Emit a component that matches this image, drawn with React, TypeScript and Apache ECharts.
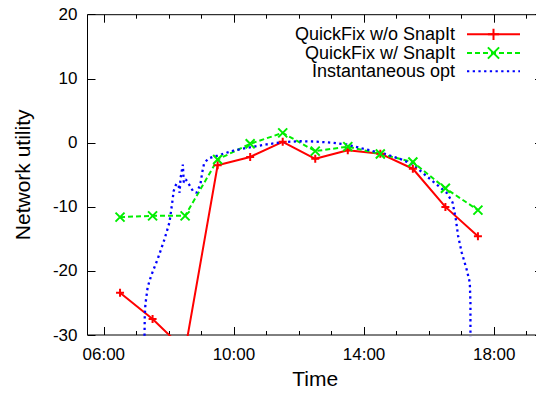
import React, { useEffect, useRef } from "react";
import * as echarts from "echarts";

// Hours of the day (decimal) for the QuickFix runs
const hours = [6.5, 7.5, 8.5, 9.5, 10.5, 11.5, 12.5, 13.5, 14.5, 15.5, 16.5, 17.5];
const withoutSnapIt = [-23.4, -27.5, -32.4, -3.5, -2.2, 0.15, -2.5, -1.15, -1.7, -4.05, -10.0, -14.6];
const withSnapIt = [-11.6, -11.4, -11.4, -2.6, -0.15, 1.55, -1.3, -0.6, -1.75, -3.0, -7.1, -10.5];

// Instantaneous optimum curve
const optHours = [
  7.25, 7.26, 7.28, 7.35, 7.46, 7.66, 7.87, 8.02, 8.1, 8.15, 8.23, 8.3, 8.33, 8.36, 8.43, 8.46,
  8.52, 8.6, 8.75, 8.85, 8.97, 9.03, 9.08, 9.2, 9.35, 9.5, 9.77, 10.0, 10.38, 11.0, 11.5, 12.0,
  12.5, 13.05, 13.46, 13.87, 14.28, 14.69, 15.1, 15.51, 15.92, 16.23, 16.54, 16.72, 16.82, 16.89,
  17.0, 17.15, 17.25, 17.27, 17.27, 17.27,
];
const optValues = [
  -31, -27, -25.2, -22.5, -20.7, -18.1, -15.0, -12.4, -9.5, -7.5, -6.4, -6.6, -7.8, -5.5, -3.4, -6.2,
  -5.7, -6.3, -7.6, -7.8, -6.5, -4.5, -3.3, -2.5, -2.2, -2.0, -1.55, -1.2, -0.8, -0.25, 0.1, 0.25,
  0.2, 0.0, -0.26, -0.78, -1.3, -1.8, -2.5, -3.4, -5.2, -6.5, -7.8, -9.3, -11.9, -14.5,
  -17.1, -19.7, -21.8, -24.9, -29.3, -31,
];

const seriesNames = ["QuickFix w/o SnapIt", "QuickFix w/ SnapIt", "Instantaneous opt"];
const xMajorHours = [6, 10, 14, 18];
const xMinorHours = [7, 8, 9, 11, 12, 13, 15, 16, 17, 19];
const yTicks = { min: -30, max: 20, step: 10 };

const FONT = "'Liberation Sans', Arial, Helvetica, sans-serif";
const W = 560;
const H = 396;

const fmtHour = (v: number) => (v < 10 ? "0" : "") + Math.round(v) + ":00";

export default function App() {
  const ref = useRef<HTMLDivElement>(null);
  useEffect(() => {
    if (!ref.current) return;
    const chart = echarts.init(ref.current, undefined, { renderer: "svg" });

    const xBase = (pos: "top" | "bottom", ticks: number[], len: number, labels: boolean) => ({
      type: "value",
      position: pos,
      min: 5.5,
      max: 19.5,
      axisLine: { show: false, onZero: false },
      splitLine: { show: false },
      axisTick: {
        show: true,
        inside: true,
        length: len,
        customValues: ticks,
        lineStyle: { color: "#000", width: 1 },
      },
      axisLabel: labels
        ? {
            show: true,
            customValues: xMajorHours,
            formatter: fmtHour,
            color: "#000",
            fontFamily: FONT,
            fontSize: 17,
            margin: 11,
          }
        : { show: false },
      ...(labels && pos === "bottom"
        ? {
            name: "Time",
            nameLocation: "middle",
            nameGap: 30,
            nameTextStyle: { color: "#000", fontFamily: FONT, fontSize: 21 },
          }
        : {}),
    });

    const yBase = (pos: "left" | "right", labels: boolean) => ({
      type: "value",
      position: pos,
      min: yTicks.min,
      max: yTicks.max,
      interval: yTicks.step,
      axisLine: { show: false, onZero: false },
      splitLine: { show: false },
      axisTick: { show: true, inside: true, length: 8, lineStyle: { color: "#000", width: 1 } },
      axisLabel: labels
        ? { show: true, color: "#000", fontFamily: FONT, fontSize: 17, margin: 10 }
        : { show: false },
      ...(labels
        ? {
            name: "Network utility",
            nameLocation: "middle",
            nameGap: 55,
            nameTextStyle: { color: "#000", fontFamily: FONT, fontSize: 21 },
          }
        : {}),
    });

    const legendTops = [25.3, 44, 62.3];
    const legends = seriesNames.map((n, i) => ({
      data: [n],
      right: W - 521,
      top: legendTops[i],
      orient: "vertical",
      align: "right",
      padding: 0,
      itemWidth: 53,
      itemHeight: 14,
      selectedMode: false,
      textStyle: { color: "#000", fontFamily: FONT, fontSize: 18, padding: [0, 7, 0, 0] },
    }));

    const plus = "path://M0,5L10,5M5,0L5,10";
    const cross = "path://M0,0L10,10M10,0L0,10";

    chart.setOption({
      animation: false,
      backgroundColor: "#fff",
      grid: {
        left: 87.5,
        right: W - 543,
        top: 14.7,
        bottom: H - 335,
        show: true,
        borderColor: "#000",
        borderWidth: 1,
        containLabel: false,
      },
      legend: legends,
      xAxis: [
        xBase("bottom", xMajorHours, 8, true),
        xBase("bottom", xMinorHours, 4, false),
        xBase("top", xMajorHours, 8, false),
        xBase("top", xMinorHours, 4, false),
      ],
      yAxis: [yBase("left", true), yBase("right", false)],
      series: [
        {
          name: seriesNames[0],
          type: "line",
          xAxisIndex: 0,
          yAxisIndex: 0,
          data: hours.map((h, i) => [h, withoutSnapIt[i]]),
          clip: true,
          symbol: plus,
          symbolSize: 8,
          itemStyle: { color: "#ff0000", borderColor: "#ff0000", borderWidth: 2 },
          lineStyle: { color: "#ff0000", width: 2, type: "solid" },
          emphasis: { disabled: true },
        },
        {
          name: seriesNames[1],
          type: "line",
          xAxisIndex: 0,
          yAxisIndex: 0,
          data: hours.map((h, i) => [h, withSnapIt[i]]),
          clip: true,
          symbol: cross,
          symbolSize: 9,
          itemStyle: { color: "#00ee00", borderColor: "#00ee00", borderWidth: 2 },
          lineStyle: { color: "#00ee00", width: 2, type: [5, 3] },
          emphasis: { disabled: true },
        },
        {
          name: seriesNames[2],
          type: "line",
          xAxisIndex: 0,
          yAxisIndex: 0,
          data: optHours.map((h, i) => [h, optValues[i]]),
          clip: true,
          symbol: "none",
          showSymbol: false,
          itemStyle: { color: "rgba(0,0,255,0)", borderWidth: 0 },
          lineStyle: { color: "#0000ff", width: 2.3, type: [2.3, 3.4] },
          emphasis: { disabled: true },
        },
      ],
    });
    return () => chart.dispose();
  }, []);

  return (
    <div
      style={{
        position: "fixed",
        left: 0,
        top: 0,
        width: 536,
        height: 396,
        overflow: "hidden",
        background: "#fff",
      }}
    >
      <div ref={ref} style={{ width: W, height: H }} />
    </div>
  );
}
